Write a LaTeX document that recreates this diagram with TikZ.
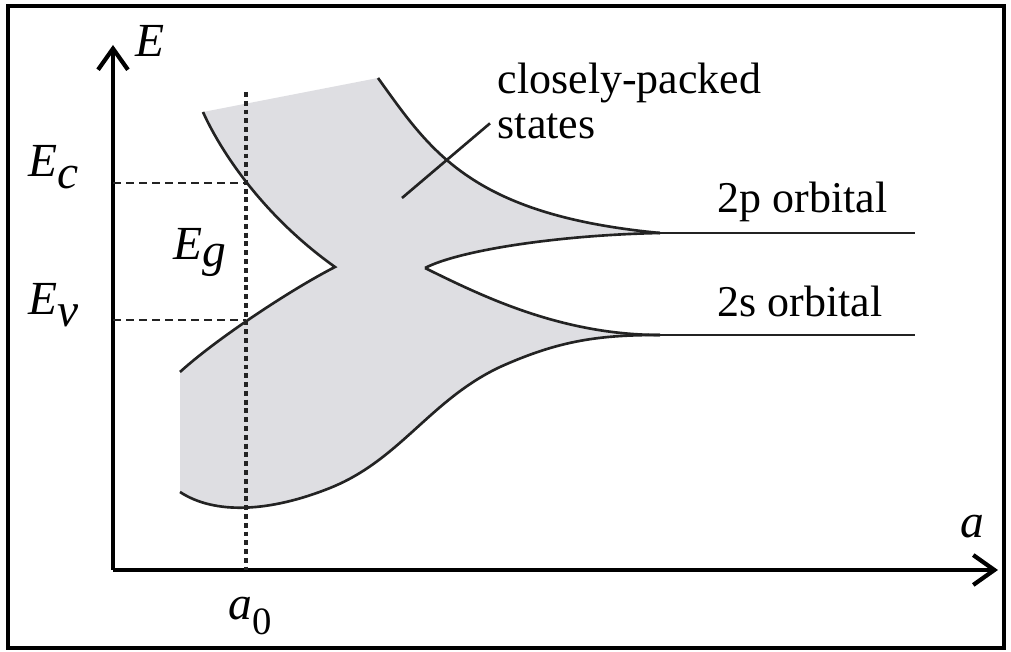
\documentclass[tikz,border=0pt]{standalone}
\usepackage{fontspec}
\setmainfont{Liberation Serif}
\usetikzlibrary{arrows.meta}
\definecolor{bandfill}{RGB}{222,222,226}
\definecolor{edgegray}{RGB}{35,35,35}
\newcommand{\lowsub}[2][3pt]{\raisebox{-#1}{\textit{#2}}}
\tikzset{
  axisline/.style={
    line width=1.2pt,
    -{Straight Barb[length=6pt,width=8.5pt,line width=1.2pt]}
  },
  bandedge/.style={
    draw=edgegray, line width=0.75pt
  },
  levelmark/.style={
    draw=edgegray, line width=0.8pt, dash pattern=on 2.3pt off 1.4pt
  },
  latticemark/.style={
    draw=edgegray, line width=1.1pt, dash pattern=on 1.4pt off 1.1pt
  },
  axislabel/.style={
    font=\fontsize{13.5}{14}\selectfont\itshape,
    inner sep=0pt, anchor=base west
  },
  orbitallabel/.style={
    font=\fontsize{12.5}{13}\selectfont,
    inner sep=0pt, anchor=base west
  },
  notelabel/.style={
    font=\fontsize{12.5}{12.8}\selectfont,
    inner sep=0pt, anchor=north west, align=left
  },
}

\begin{document}
\begin{tikzpicture}[x=0.01cm, y=-0.01cm]
  \useasboundingbox (0,0) rectangle (1011,652);

  %% frame
  \draw[line width=1.3pt] (8,6) rectangle (1004,648);

  %% shaded bands
  \fill[bandfill] (203,112) .. controls (220,150) and (262,215) .. (335,267)
    .. controls (290,290) and (215,340) .. (180,372) -- (180,492)
    .. controls (215,515) and (270,512) .. (330,488)
    .. controls (400,460) and (430,400) .. (500,367)
    .. controls (560,340) and (600,335) .. (660,335)
    .. controls (560,335) and (480,295) .. (425,268)
    .. controls (460,250) and (560,235) .. (660,233)
    .. controls (470,215) and (430,150) .. (378,78) -- cycle;

  %% axes
  \coordinate (O) at (113,570);
  \coordinate (Etop) at (113,45);
  \coordinate (aend) at (998,570);
  \draw[axisline] (O) -- (Etop);
  \draw[axisline] (O) -- (aend);

  %% band edges
  \coordinate (cusp2p) at (660,233);
  \coordinate (cusp2s) at (660,335);
  \coordinate (end2p) at (915,233);
  \coordinate (end2s) at (915,335);
  \coordinate (Ecpt) at (246,183);
  \coordinate (Evpt) at (246,320);
  \draw[bandedge] (203,112) .. controls (220,150) and (262,215) .. (335,267)
    .. controls (290,290) and (215,340) .. (180,372);
  \draw[bandedge] (180,492) .. controls (215,515) and (270,512) .. (330,488)
    .. controls (400,460) and (430,400) .. (500,367)
    .. controls (560,340) and (600,335) .. (cusp2s);
  \draw[bandedge] (378,78) .. controls (430,150) and (470,215) .. (cusp2p);
  \draw[bandedge] (425,268) .. controls (460,250) and (560,235) .. (cusp2p);
  \draw[bandedge] (425,268) .. controls (480,295) and (560,335) .. (cusp2s);
  \draw[bandedge] (cusp2p) -- (end2p);
  \draw[bandedge] (cusp2s) -- (end2s);

  %% marks
  \coordinate (a0top) at (246,92);
  \coordinate (a0pt) at (246,570);
  \coordinate (Ecax) at (113,183);
  \coordinate (Evax) at (113,320);
  \draw[latticemark] (a0top) -- (a0pt);
  \draw[levelmark] (Ecax) -- (Ecpt);
  \draw[levelmark] (Evax) -- (Evpt);

  %% labels
  \node[axislabel] (Elbl) at (135,57) {E};
  \node[axislabel] (Eclbl) at (28,177) {E\lowsub[3.2pt]{c}};
  \node[axislabel] (Evlbl) at (28,315) {E\lowsub[3.2pt]{v}};
  \node[axislabel] (Eglbl) at (173,260) {E\lowsub[1.8pt]{g}};
  \node[axislabel] (albl) at (960,538) {a};
  \node[axislabel] (a0lbl) at (228,620)
    {a\raisebox{-4pt}{\upshape\fontsize{11}{11}\selectfont 0}};
  \node[orbitallabel] (lbl2p) at (717,213) {2p orbital};
  \node[orbitallabel] (lbl2s) at (717,317) {2s orbital};
  \node[notelabel] (cps) at (497,62) {closely-packed\\states};

  \coordinate (ptr) at (402,198);
  \draw[bandedge] (ptr) -- ([xshift=-0.07cm,yshift=0.16cm]cps.south west);
\end{tikzpicture}
\end{document}
